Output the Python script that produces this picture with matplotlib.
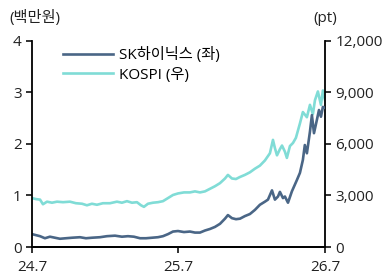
import matplotlib
matplotlib.use('Agg')
import matplotlib.pyplot as plt
from matplotlib.ticker import FuncFormatter

plt.rcParams['font.family'] = ['Open Sans', 'Noto Sans CJK KR', 'DejaVu Sans']

# months since 2024.7
kospi_m = [0.00, 0.33, 0.66, 0.90, 1.23, 1.64, 2.05, 2.54, 3.11, 3.60, 4.10, 4.50,
           4.91, 5.32, 5.81, 6.39, 6.96, 7.37, 7.78, 8.19, 8.60, 8.93, 9.17, 9.50,
           9.91, 10.32, 10.73, 11.14, 11.55, 11.96, 12.45, 12.94, 13.35, 13.76,
           14.17, 14.58, 14.99, 15.40, 15.81, 16.05, 16.38, 16.71, 17.04, 17.44,
           17.85, 18.26, 18.67, 19.08, 19.49, 19.74, 19.90, 20.07, 20.31, 20.48,
           20.72, 20.88, 21.13, 21.38, 21.62, 21.95, 22.19, 22.52, 22.77, 23.01,
           23.18, 23.42, 23.67, 23.83, 24.00]
kospi = [2850, 2790, 2760, 2490, 2640, 2580, 2640, 2610, 2640, 2550, 2520, 2430,
         2520, 2460, 2550, 2550, 2640, 2580, 2670, 2580, 2610, 2430, 2340, 2520,
         2580, 2610, 2670, 2850, 3030, 3120, 3180, 3180, 3240, 3180,
         3240, 3390, 3540, 3720, 3990, 4200, 3990, 3960, 4080, 4200,
         4350, 4560, 4740, 5040, 5460, 6240, 5760, 5340, 5700, 5910,
         5550, 5190, 5880, 6060, 6360, 7200, 7860, 7560, 8280, 7740,
         8550, 9060, 8280, 9120, 8580]

sk_m = [0.00, 0.33, 0.66, 1.06, 1.47, 1.88, 2.29, 2.78, 3.28, 3.93, 4.42, 4.91,
        5.57, 6.14, 6.80, 7.37, 7.86, 8.35, 8.85, 9.34, 9.83, 10.32, 10.73, 11.14,
        11.55, 11.96, 12.45, 12.94, 13.35, 13.76, 14.17, 14.58, 14.99, 15.40,
        15.81, 16.05, 16.38, 16.71, 17.04, 17.44, 17.85, 18.26, 18.67, 19.08,
        19.33, 19.66, 19.90, 20.15, 20.31, 20.56, 20.72, 20.97, 21.29, 21.70,
        21.95, 22.19, 22.35, 22.52, 22.77, 22.93, 23.10, 23.34, 23.51, 23.67,
        23.83, 24.00]
sk = [0.25, 0.23, 0.21, 0.17, 0.20, 0.18, 0.16, 0.17, 0.18, 0.19, 0.17, 0.18,
      0.19, 0.21, 0.22, 0.20, 0.21, 0.20, 0.17, 0.17, 0.18, 0.19, 0.21, 0.25,
      0.30, 0.31, 0.29, 0.30, 0.28, 0.28, 0.32, 0.35, 0.39, 0.45,
      0.55, 0.62, 0.56, 0.54, 0.55, 0.60, 0.64, 0.72, 0.82, 0.88,
      0.92, 1.10, 0.92, 0.98, 1.07, 0.95, 0.98, 0.86, 1.08, 1.30,
      1.44, 1.69, 1.98, 1.82, 2.24, 2.56, 2.21, 2.47, 2.66, 2.53,
      2.72, 2.70]

xticks = [0, 12, 24]
xlabels = ['24.7', '25.7', '26.7']

sk_color = '#4a6686'
kospi_color = '#80dcd6'

fig = plt.figure(figsize=(3.92, 2.77), dpi=100)
ax = fig.add_axes([0.0816, 0.1083, 0.7474, 0.7437])
ax2 = ax.twinx()

l2, = ax2.plot(kospi_m, kospi, color=kospi_color, lw=1.9, label='KOSPI (우)')
l1, = ax.plot(sk_m, sk, color=sk_color, lw=1.9, label='SK하이닉스 (좌)')
ax.set_zorder(ax2.get_zorder() + 1)
ax.patch.set_visible(False)

ax.set_xlim(0, 24)
ax.set_ylim(0, 4)
ax2.set_ylim(0, 12000)
ax.set_yticks([0, 1, 2, 3, 4])
ax2.set_yticks([0, 3000, 6000, 9000, 12000])
ax2.yaxis.set_major_formatter(FuncFormatter(lambda v, p: f'{int(v):,}'))
ax.set_xticks(xticks)
ax.set_xticklabels(xlabels)

for a in (ax, ax2):
    a.spines['top'].set_visible(False)
    for s in a.spines.values():
        s.set_linewidth(1.3)
        s.set_color('black')
    a.tick_params(direction='out', length=4, width=1.3, labelsize=11, colors='#222222')
ax.tick_params(axis='x', pad=5)
ax2.spines['left'].set_visible(False)
ax.spines['right'].set_visible(False)

ax.legend(handles=[l1, l2], loc='upper left', bbox_to_anchor=(0.085, 1.0),
          frameon=False, fontsize=11, handlelength=3.3, handletextpad=0.35,
          labelspacing=0.3, borderaxespad=0)

fig.text(35 / 392, 1 - 18 / 277, '(백만원)', ha='center', va='center', fontsize=11, color='#222222')
fig.text(325 / 392, 1 - 18 / 277, '(pt)', ha='center', va='center', fontsize=11, color='#222222')

fig.savefig('out.png', dpi=100)
